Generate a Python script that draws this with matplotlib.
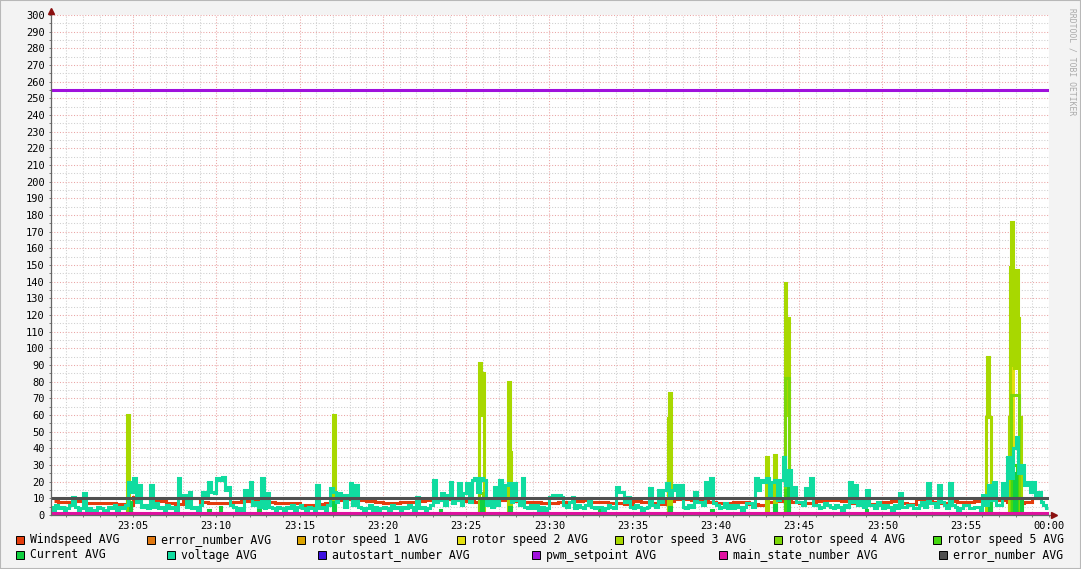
import matplotlib
matplotlib.use('Agg')
import matplotlib.pyplot as plt
import numpy as np
from matplotlib.patches import Rectangle
from matplotlib.lines import Line2D

########################################################################################################################
## data (minutes after 23:00)
########################################################################################################################
# windspeed, two values per minute
windspeed = [8.5, 8, 8, 8.5, 7.5, 7, 7, 7, 6.5, 6,
             11, 10, 9, 8.5, 7, 6.5, 9.5, 10.5, 8, 7.5,
             7.5, 7, 8, 8.5, 9, 9, 8, 7.5, 7, 7,
             6, 6, 6.5, 7, 9, 9.5, 9.5, 9, 8.5, 8,
             7.5, 7, 8, 8, 8.5, 9, 9, 9.5, 10, 9,
             8.5, 8, 7.5, 7, 9, 10, 8.5, 8, 8, 7.5,
             7.5, 8, 8, 8.5, 9, 8, 8, 7.5, 7.5, 6.5,
             8.5, 8, 7, 6.5, 8.5, 9.5, 9.5, 9, 9, 8,
             7.5, 7, 8, 8, 6.5, 6, 8, 8.5, 9, 8,
             7.5, 7.5, 8.5, 9, 9, 8.5, 7.5, 7, 6.5, 6,
             8, 8.5, 7, 6.5, 9.5, 10, 8, 7.5, 8.5, 8,
             8, 8.5, 9.5, 9, 9, 8, 7.5, 8, 10, 10]

# voltage, six values per minute
voltage = [5, 3, 6, 4, 5, 3,   4, 6, 11, 5, 3, 4,   13, 3, 4, 2, 3, 5,   4, 2, 3, 5, 4, 6,
           3, 5, 4, 6, 20, 14,   22, 8, 18, 5, 6, 4,   18, 5, 7, 4, 5, 3,   6, 4, 5, 3, 22, 10,
           12, 5, 14, 4, 5, 3,   6, 14, 12, 20, 14, 13,   22, 21, 23, 15, 17, 6,   5, 3, 4, 2, 15, 12,
           20, 6, 8, 5, 22, 4,   13, 5, 4, 3, 5, 4,   3, 5, 4, 6, 3, 5,   6, 4, 3, 5, 4, 3,
           18, 4, 5, 3, 6, 16,   14, 8, 13, 12, 5, 12,   19, 6, 18, 5, 4, 3,   4, 6, 3, 5, 2, 4,
           5, 4, 3, 6, 4, 5,   3, 5, 4, 6, 5, 3,   11, 4, 5, 3, 4, 6,   21, 8, 9, 13, 6, 12,
           20, 7, 9, 19, 6, 13,   19, 8, 21, 22, 14, 22,   21, 6, 9, 5, 17, 6,   21, 10, 18, 19, 8, 19,
           9, 6, 22, 5, 4, 6,   4, 6, 3, 5, 3, 4,   11, 12, 10, 12, 11, 6,   5, 8, 11, 4, 6, 5,
           4, 6, 10, 5, 4, 5,   5, 3, 4, 6, 5, 4,   17, 14, 14, 8, 11, 5,   4, 6, 5, 3, 4, 5,
           16, 6, 5, 15, 8, 15,   19, 12, 15, 18, 10, 18,   5, 4, 6, 5, 14, 8,   8, 6, 20, 12, 22, 7,
           6, 4, 5, 7, 4, 6,   4, 6, 5, 3, 5, 7,   7, 5, 22, 15, 21, 20,   22, 12, 20, 21, 9, 21,
           35, 18, 27, 12, 17, 8,   8, 6, 16, 10, 22, 6,   6, 4, 5, 7, 6, 5,   4, 6, 5, 3, 6, 5,
           20, 8, 18, 6, 9, 5,   15, 6, 6, 4, 8, 6,   4, 6, 5, 3, 6, 4,   13, 5, 5, 6, 6, 4,
           4, 6, 8, 5, 19, 7,   7, 5, 18, 8, 6, 4,   19, 6, 5, 3, 4, 6,   6, 4, 4, 5, 5, 3,
           12, 6, 18, 9, 20, 6,   6, 19, 12, 35, 22, 40,   47, 25, 30, 18, 20, 14,   20, 12, 14, 8, 6, 4]

# step series: (minute, value), value holds until next minute
rotor3_t = [0, 4.66, 4.78, 17.0, 17.12, 25.8, 25.9, 25.96, 26.06, 27.52, 27.62, 27.7,
            37.12, 37.2, 37.3, 43.02, 43.12, 43.5, 43.6, 44.12, 44.22, 44.3, 44.4,
            56.22, 56.28, 56.4, 56.5, 57.6, 57.66, 57.72, 57.82, 57.92, 58.02, 58.14, 58.22, 58.3, 60]
rotor3_v = [0, 60, 0, 60, 0, 91, 60, 85, 0, 80, 38, 0,
            58, 73, 0, 35, 0, 36, 0, 139, 60, 118, 0,
            59, 95, 59, 0, 59, 149, 176, 90, 88, 147, 118, 59, 0, 0]

rotor2_t = [0, 57.78, 57.86, 60]
rotor2_v = [0, 94, 0, 0]

rotor4_t = [0, 4.66, 4.78, 25.8, 26.0, 44.12, 44.4, 57.7, 58.2, 60]
rotor4_v = [0, 10, 0, 13, 0, 82, 0, 72, 0, 0]

rotor5_t = [0, 44.15, 44.35, 57.75, 58.1, 60]
rotor5_v = [0, 15, 0, 30, 0, 0]

current_t = [0, 4.8, 4.9, 9.5, 9.6, 10.2, 10.3, 12.5, 12.6, 17.0, 17.1, 23.4, 23.5,
             25.9, 26.0, 27.6, 27.7, 33.0, 33.1, 37.2, 37.3, 39.7, 39.8, 43.5, 43.6,
             44.3, 44.4, 49.0, 49.1, 56.4, 56.5, 57.9, 58.0, 58.3, 58.4, 60]
current_v = [0, 8, 0, 3, 0, 5, 0, 4, 0, 8, 0, 3, 0,
             10, 0, 5, 0, 3, 0, 5, 0, 3, 0, 6, 0,
             20, 0, 3, 0, 8, 0, 25, 0, 10, 0, 0]

const_t = [0, 60]
error_number_a = [0, 0]
rotor1 = [0, 0]
autostart = [0, 0]
pwm_setpoint = [255, 255]
main_state = [1, 1]
error_number_b = [10, 10]

xtick_minutes = [5, 10, 15, 20, 25, 30, 35, 40, 45, 50, 55, 60]
xtick_labels = ['23:05', '23:10', '23:15', '23:20', '23:25', '23:30',
                '23:35', '23:40', '23:45', '23:50', '23:55', '00:00']

legend_labels = ['Windspeed AVG', 'error_number AVG', 'rotor speed 1 AVG', 'rotor speed 2 AVG',
                 'rotor speed 3 AVG', 'rotor speed 4 AVG', 'rotor speed 5 AVG',
                 'Current AVG', 'voltage AVG', 'autostart_number AVG', 'pwm_setpoint AVG',
                 'main_state_number AVG', 'error_number AVG']
colors = ['#e43c0c', '#e07810', '#dca400', '#e4e010', '#a8d800', '#7cd808', '#44d810',
          '#10d040', '#10dca0', '#3c10e0', '#a010dc', '#e010a0', '#505050']

########################################################################################################################
## figure
########################################################################################################################
W, H = 1081, 569
MONO = 'DejaVu Sans Mono'
LW = 2.2

fig = plt.figure(figsize=(W / 100, H / 100), dpi=100, facecolor='#f3f3f3')
ax = fig.add_axes([51 / W, (H - 515) / H, 998 / W, 500 / H])
ax.set_facecolor('white')

t_wind = np.arange(len(windspeed)) / 2 + 0.25
t_volt = np.arange(len(voltage)) / 6 + 1 / 12

kw = dict(lw=LW, solid_joinstyle='miter', solid_capstyle='butt')
ax.plot(t_wind, windspeed, color=colors[0], drawstyle='steps-mid', **kw)
ax.plot(const_t, error_number_a, color=colors[1], **kw)
ax.plot(const_t, rotor1, color=colors[2], **kw)
ax.plot(rotor2_t, rotor2_v, color=colors[3], drawstyle='steps-post', **kw)
ax.plot(rotor3_t, rotor3_v, color=colors[4], drawstyle='steps-post', **kw)
ax.plot(rotor4_t, rotor4_v, color=colors[5], drawstyle='steps-post', **kw)
ax.plot(rotor5_t, rotor5_v, color=colors[6], drawstyle='steps-post', **kw)
ax.plot(current_t, current_v, color=colors[7], drawstyle='steps-post', **kw)
ax.plot(t_volt, voltage, color=colors[8], drawstyle='steps-mid', **kw)
ax.plot(const_t, autostart, color=colors[9], **kw)
ax.plot(const_t, pwm_setpoint, color=colors[10], **kw)
ax.plot(const_t, main_state, color=colors[11], **kw)
ax.plot(const_t, error_number_b, color=colors[12], **kw)

ax.set_xlim(0.07, 60)
ax.set_ylim(0, 300)
ax.set_xticks(xtick_minutes)
ax.set_xticklabels(xtick_labels)
ax.set_xticks(np.arange(1, 60), minor=True)
ax.set_yticks(np.arange(0, 301, 10))
ax.set_yticks(np.arange(5, 300, 10), minor=True)
ax.set_axisbelow(True)
ax.grid(which='major', color='#eaa4a4', lw=0.75, linestyle=(0, (1, 1.7)))
ax.grid(which='minor', color='#cfcfcf', lw=0.75, linestyle=(0, (1, 1.7)))
ax.tick_params(which='both', length=1.5, width=0.7, color='#777777', direction='out')
ax.tick_params(labelsize=7.5, pad=3)
for lab in ax.get_xticklabels() + ax.get_yticklabels():
    lab.set_family(MONO)
for s in ax.spines.values():
    s.set_visible(False)

# axes with arrows
ax.add_line(Line2D([0, 0], [0, 1.012], transform=ax.transAxes, color='#666666', lw=0.9, clip_on=False))
ax.add_line(Line2D([0, 1.006], [0, 0], transform=ax.transAxes, color='#666666', lw=0.9, clip_on=False))
ax.plot([0], [1.009], marker='^', ms=5, color='#8b1010', transform=ax.transAxes, clip_on=False)
ax.plot([1.005], [0], marker='>', ms=5, color='#8b1010', transform=ax.transAxes, clip_on=False)

# legend
legend_xy = [(16, 540), (147, 540), (297, 540), (457, 540), (615, 540), (774, 540), (933, 540),
             (16, 555), (167, 555), (318, 555), (532, 555), (719, 555), (939, 555)]
for lab, col, (lx, ly) in zip(legend_labels, colors, legend_xy):
    fig.patches.append(Rectangle((lx / W, 1 - (ly + 4) / H), 8 / W, 8 / H, transform=fig.transFigure,
                                 facecolor=col, edgecolor='black', lw=0.7))
    fig.text((lx + 14) / W, 1 - ly / H, lab, va='center', ha='left', fontsize=8.3, family=MONO)

fig.text(1072 / W, 1 - 8 / H, 'RRDTOOL / TOBI OETIKER', rotation=270, va='top', ha='center',
         fontsize=5.8, color='#aaaaaa', family=MONO)

# frame
fig.patches.append(Rectangle((0, 0), 1, 1, transform=fig.transFigure, fill=False,
                             edgecolor='#b8b8b8', lw=1.5))

fig.savefig('out.png', dpi=100, facecolor=fig.get_facecolor())
